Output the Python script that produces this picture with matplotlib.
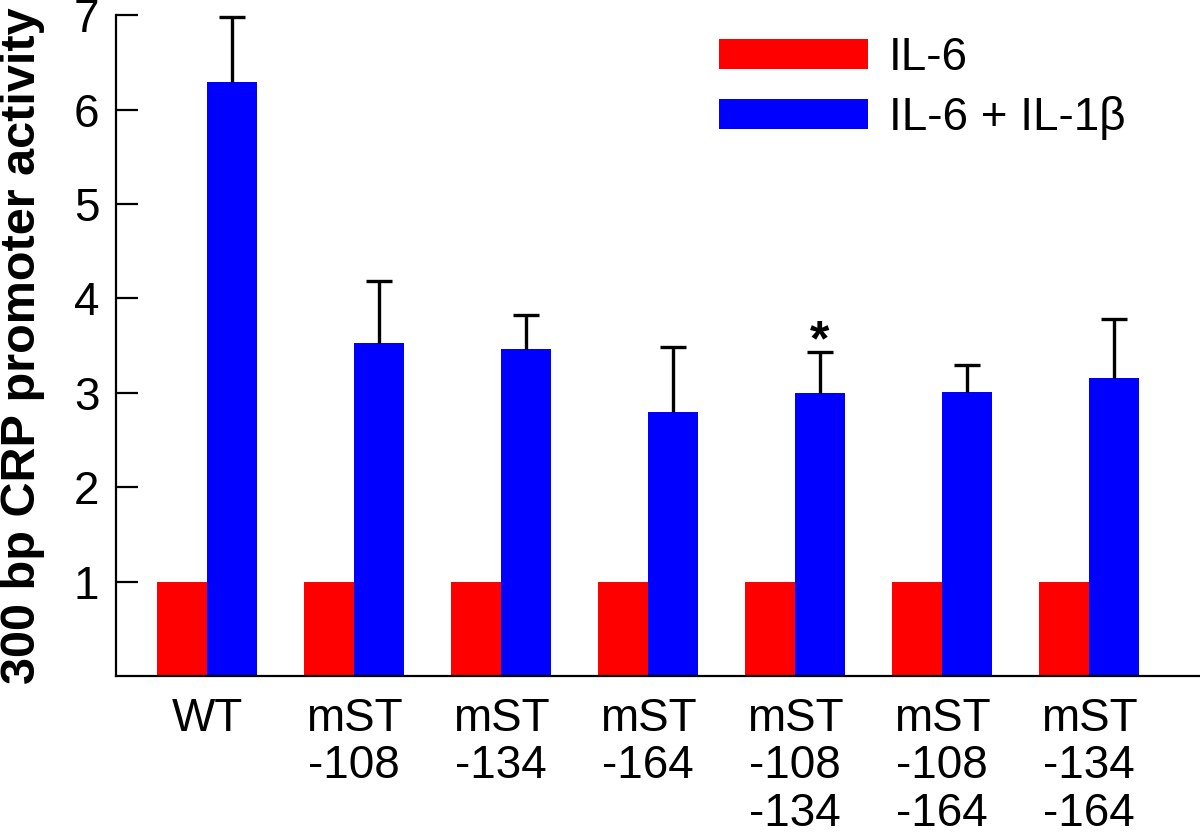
import numpy as np
import matplotlib
matplotlib.use("Agg")
import matplotlib.pyplot as plt

plt.rcParams["font.family"] = ["Liberation Sans", "DejaVu Sans"]

groups = ["WT", "mST\n-108", "mST\n-134", "mST\n-164",
          "mST\n-108\n-134", "mST\n-108\n-164", "mST\n-134\n-164"]
il6 = [1, 1, 1, 1, 1, 1, 1]
il6_il1b = [6.29, 3.53, 3.47, 2.80, 3.00, 3.01, 3.16]
il6_il1b_err = [0.69, 0.66, 0.36, 0.69, 0.43, 0.29, 0.62]
star_group = 4

x = np.arange(len(groups))
w = 0.34
tops = np.array(il6_il1b) + np.array(il6_il1b_err)

fig = plt.figure(figsize=(12, 8.38), dpi=100)
ax = fig.add_axes([0.0967, 0.193, 0.9025, 0.789])

ax.bar(x - w / 2, il6, w, color="#ff0000", label="IL-6")
ax.bar(x + w / 2, il6_il1b, w, color="#0000ff", label="IL-6 + IL-1\u03b2")

# upper error bars only, cap at the top
ax.errorbar(x + w / 2, il6_il1b, yerr=[np.zeros(len(x)), il6_il1b_err],
            fmt="none", ecolor="black", elinewidth=2.4, capsize=0)
ax.plot(x + w / 2, tops, ls="none", marker="_", ms=19, mew=2.4, color="black")

ax.text(x[star_group] + w / 2, tops[star_group] - 0.03, "*",
        ha="center", va="baseline", fontsize=36, fontweight="bold")

ax.set_xlim(-0.62, 6.75)
ax.set_ylim(0, 7)
ax.set_yticks([1, 2, 3, 4, 5, 6, 7])
ax.set_xticks(x)
ax.set_xticklabels(groups, fontsize=33, va="top", linespacing=1.1)
ax.tick_params(axis="x", length=0, pad=15)
ax.tick_params(axis="y", direction="in", length=16, width=1.6, labelsize=33, pad=12)

for side in ["top", "right"]:
    ax.spines[side].set_visible(False)
for side in ["left", "bottom"]:
    ax.spines[side].set_linewidth(1.6)

ax.set_ylabel("300 bp CRP promoter activity", fontsize=35, fontweight="bold")
ax.yaxis.set_label_coords(-0.066, 0.5)

ax.legend(loc="upper left", bbox_to_anchor=(719 / 1200, 1 - 36 / 838),
          bbox_transform=fig.transFigure, frameon=False, fontsize=33,
          handlelength=3.25, handleheight=0.62, handletextpad=0.45,
          labelspacing=0.35, borderpad=0, borderaxespad=0)

fig.savefig("out.png", dpi=100)
